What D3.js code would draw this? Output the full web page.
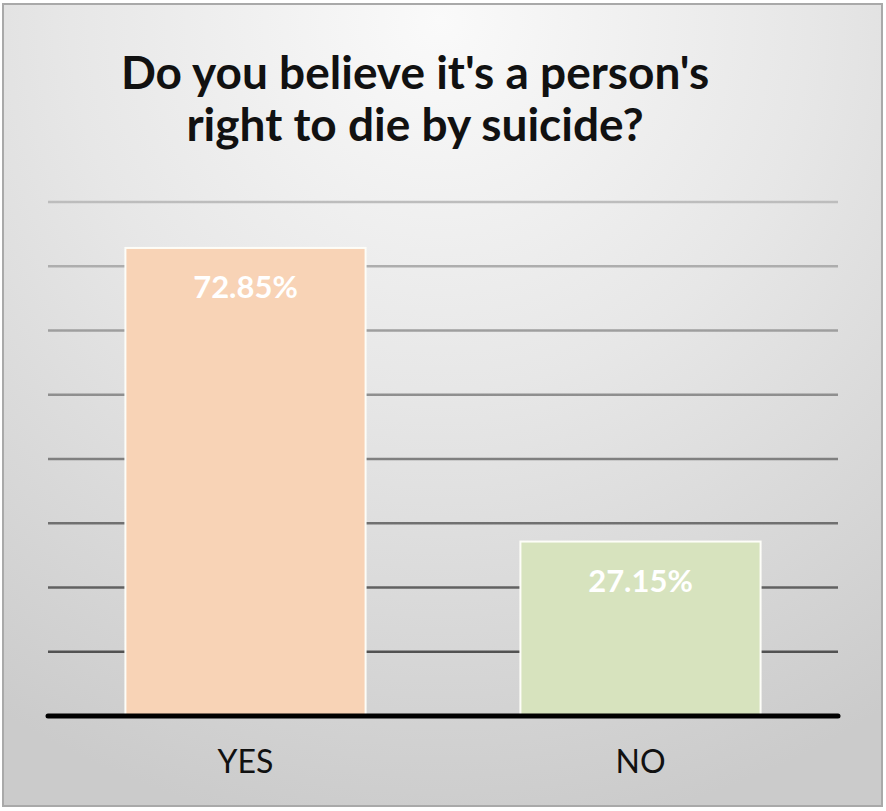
<!DOCTYPE html>
<html><head><meta charset="utf-8">
<script src="https://cdn.jsdelivr.net/npm/d3@7/dist/d3.min.js"></script>
<style>html,body{margin:0;padding:0;background:#fff;}svg{display:block;}</style>
</head><body>
<script>
const categories = ["YES", "NO"];
const values = [72.85, 27.15];
const valueLabels = ["72.85%", "27.15%"];
const barColors = ["#f8d3b6", "#d7e3be"];
const gridTicks = [10, 20, 30, 40, 50, 60, 70, 80];
const titleLines = ["Do you believe it's a person's", "right to die by suicide?"];

const W = 886, H = 811;
const svg = d3.select("body").append("svg").attr("width", W).attr("height", H);
const defs = svg.append("defs");
const bg = defs.append("radialGradient").attr("id", "bg")
  .attr("gradientUnits", "userSpaceOnUse").attr("cx", 440).attr("cy", 20).attr("r", 820);
bg.append("stop").attr("offset", "0").attr("stop-color", "#fafafa");
bg.append("stop").attr("offset", "0.45").attr("stop-color", "#e7e7e7");
bg.append("stop").attr("offset", "1").attr("stop-color", "#cbcbcb");
const gg = defs.append("linearGradient").attr("id", "grid")
  .attr("gradientUnits", "userSpaceOnUse").attr("x1", 0).attr("y1", 200).attr("x2", 0).attr("y2", 660);
gg.append("stop").attr("offset", "0").attr("stop-color", "#bdbdbd");
gg.append("stop").attr("offset", "1").attr("stop-color", "#505050");

svg.append("rect").attr("x", 3).attr("y", 4).attr("width", 879).attr("height", 802)
  .attr("fill", "url(#bg)").attr("stroke", "#a9a9a9").attr("stroke-width", 2);

const x = d3.scaleBand().domain(categories).range([48, 838]).paddingInner(0.392).paddingOuter(0.196);
const y = d3.scaleLinear().domain([0, 80]).range([716, 202]);

svg.append("g").selectAll("line").data(gridTicks).join("line")
  .attr("x1", 48).attr("x2", 838).attr("y1", d => y(d)).attr("y2", d => y(d))
  .attr("stroke", "url(#grid)").attr("stroke-width", 2.5);

svg.append("g").selectAll("rect").data(values).join("rect")
  .attr("x", (d, i) => x(categories[i])).attr("width", x.bandwidth())
  .attr("y", d => y(d)).attr("height", d => y(0) - y(d))
  .attr("fill", (d, i) => barColors[i]).attr("stroke", "#fdfdf8").attr("stroke-width", 2);

svg.append("line").attr("x1", 48).attr("x2", 838).attr("y1", y(0)).attr("y2", y(0))
  .attr("stroke", "#000").attr("stroke-width", 5).attr("stroke-linecap", "round");

svg.append("g").selectAll("text").data(values).join("text")
  .attr("x", (d, i) => x(categories[i]) + x.bandwidth() / 2)
  .attr("y", d => y(d) + 50)
  .attr("text-anchor", "middle").attr("fill", "#fff")
  .attr("font-family", "Lato, sans-serif").attr("font-weight", 700).attr("font-size", 31)
  .text((d, i) => valueLabels[i]);

const xAxis = svg.append("g").attr("transform", `translate(0,${y(0)})`)
  .call(d3.axisBottom(x).tickSize(0).tickPadding(0));
xAxis.select(".domain").remove();
xAxis.selectAll("text").attr("y", 57).attr("dy", 0)
  .attr("font-family", "Lato, sans-serif").attr("font-size", 32).attr("fill", "#111");

svg.append("g").selectAll("text").data(titleLines).join("text")
  .attr("x", 415).attr("y", (d, i) => 89 + i * 52)
  .attr("text-anchor", "middle").attr("fill", "#111")
  .attr("font-family", "Lato, sans-serif").attr("font-weight", 700).attr("font-size", 46)
  .text(d => d);
</script>
</body></html>
